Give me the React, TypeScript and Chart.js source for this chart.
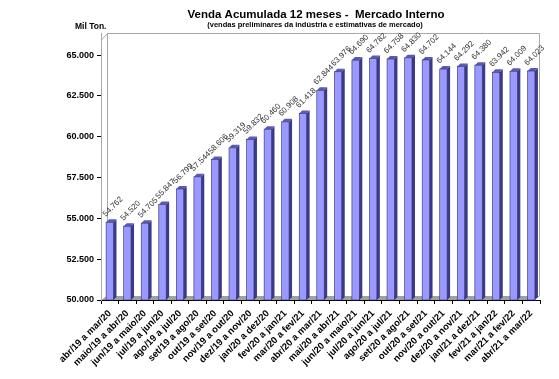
import React, { useEffect, useRef } from "react";
import { Chart, registerables } from "chart.js";

Chart.register(...registerables);

const categories = [
  "abr/19 a mar/20", "maio/19 a abr/20", "jun/19 a maio/20", "jul/19 a jun/20",
  "ago/19 a jul/20", "set/19 a ago/20", "out/19 a set/20", "nov/19 a out/20",
  "dez/19 a nov/20", "jan/20 a dez/20", "fev/20 a jan/21", "mar/20 a fev/21",
  "abr/20 a mar/21", "mai/20 a abr/21", "jun/20 a maio/21", "jul/20 a jun/21",
  "ago/20 a jul/21", "set/20 a ago/21", "out/20 a set/21", "nov/20 a out/21",
  "dez/20 a nov/21", "jan/21 a dez/21", "fev/21 a jan/22", "mar/21 a fev/22",
  "abr/21 a mar/22",
];

const vendas = [
  54762, 54520, 54705, 55847, 56799, 57544, 58606, 59319, 59832, 60460,
  60908, 61418, 62844, 63976, 64690, 64782, 64758, 64830, 64702, 64144,
  64292, 64380, 63942, 64009, 64023,
];

const yTicks = [50000, 52500, 55000, 57500, 60000, 62500, 65000];

const titleText = "Venda Acumulada 12 meses -  Mercado Interno";
const subtitleText = "(vendas preliminares da indústria e estimativas de mercado)";
const unitText = "Mil Ton.";

const fmt = (v: number) =>
  Math.round(v).toString().replace(/\B(?=(\d{3})+(?!\d))/g, ".");

const FONT = "'Liberation Sans', Arial, sans-serif";
const DEPTH = 3;

const deco = {
  id: "deco",
  beforeDatasetsDraw(chart: any) {
    const { ctx, chartArea } = chart;
    const { left, right, top, bottom } = chartArea;
    ctx.save();
    ctx.strokeStyle = "#A8A8A8";
    ctx.lineWidth = 1;
    ctx.beginPath();
    ctx.moveTo(left + 0.5, bottom);
    ctx.lineTo(left + 0.5, top + 7);
    ctx.lineTo(left + 6.5, top + 0.5);
    ctx.lineTo(right - 0.5, top + 0.5);
    ctx.lineTo(right - 0.5, bottom - 4);
    ctx.stroke();
    ctx.beginPath();
    ctx.moveTo(left + 6.5, top + 0.5);
    ctx.lineTo(left + 6.5, bottom - 4);
    ctx.stroke();
    ctx.fillStyle = "#A0A0A0";
    ctx.beginPath();
    ctx.moveTo(left, bottom);
    ctx.lineTo(left + 6, bottom - 4);
    ctx.lineTo(right, bottom - 4);
    ctx.lineTo(right - 6, bottom);
    ctx.closePath();
    ctx.fill();
    ctx.restore();
  },
  afterDatasetsDraw(chart: any) {
    const { ctx, chartArea } = chart;
    const meta = chart.getDatasetMeta(0);
    ctx.save();
    meta.data.forEach((bar: any, i: number) => {
      const { x, y, width } = bar.getProps(["x", "y", "width"], true);
      const base = chartArea.bottom;
      const l = x - width / 2;
      const r = x + width / 2;
      ctx.fillStyle = "#3A3A88";
      ctx.beginPath();
      ctx.moveTo(r, y);
      ctx.lineTo(r + DEPTH, y - DEPTH);
      ctx.lineTo(r + DEPTH, base - DEPTH);
      ctx.lineTo(r, base);
      ctx.closePath();
      ctx.fill();
      ctx.fillStyle = "#5A5AB0";
      ctx.beginPath();
      ctx.moveTo(l, y);
      ctx.lineTo(l + DEPTH, y - DEPTH);
      ctx.lineTo(r + DEPTH, y - DEPTH);
      ctx.lineTo(r, y);
      ctx.closePath();
      ctx.fill();
      ctx.strokeStyle = "#2E2E6E";
      ctx.lineWidth = 0.6;
      ctx.strokeRect(l, y, width, base - y);
      ctx.save();
      ctx.translate(l + 1, y - 4);
      ctx.rotate(-Math.PI / 4);
      ctx.fillStyle = "#333";
      ctx.font = `8px ${FONT}`;
      ctx.textAlign = "left";
      ctx.textBaseline = "bottom";
      ctx.fillText(fmt(vendas[i]), 0, 0);
      ctx.restore();
    });
    ctx.restore();
  },
  afterDraw(chart: any) {
    const { ctx } = chart;
    ctx.save();
    ctx.fillStyle = "#000";
    ctx.textAlign = "center";
    ctx.textBaseline = "alphabetic";
    ctx.font = `bold 11.5px ${FONT}`;
    ctx.fillText(titleText, 316, 18);
    ctx.font = `bold 7.5px ${FONT}`;
    ctx.fillText(subtitleText, 315, 27);
    ctx.textAlign = "left";
    ctx.font = `bold 8.5px ${FONT}`;
    ctx.fillText(unitText, 75, 29);
    ctx.restore();
  },
};

export default function App() {
  const ref = useRef<HTMLCanvasElement>(null);
  useEffect(() => {
    if (!ref.current) return;
    const chart = new Chart(ref.current, {
      type: "bar",
      data: {
        labels: categories,
        datasets: [
          {
            data: vendas,
            backgroundColor: "#9999FF",
            borderWidth: 0,
            barPercentage: 0.42,
            categoryPercentage: 1,
          },
        ],
      },
      options: {
        responsive: false,
        animation: false,
        layout: { padding: { top: 33, right: 19, left: 0, bottom: 0 } },
        plugins: { legend: { display: false }, tooltip: { enabled: false }, title: { display: false } },
        scales: {
          x: {
            offset: true,
            grid: { display: true, drawOnChartArea: false, drawTicks: true, tickLength: 4, offset: true, color: "#000" },
            border: { display: true, color: "#000" },
            ticks: {
              autoSkip: false,
              maxRotation: 45,
              minRotation: 45,
              padding: 4,
              color: "#000",
              font: { family: FONT, size: 9.5, weight: "bold" },
            },
            afterFit: (scale: any) => {
              scale.height = 79;
            },
          },
          y: {
            min: 50000,
            max: 66350,
            grid: { display: true, drawOnChartArea: false, drawTicks: true, tickLength: 4, color: "#000" },
            border: { display: true, color: "#A8A8A8" },
            afterBuildTicks: (scale: any) => {
              scale.ticks = yTicks.map((v) => ({ value: v }));
            },
            ticks: {
              padding: 3,
              color: "#000",
              font: { family: FONT, size: 9, weight: "bold" },
              callback: (v: any) => fmt(Number(v)),
            },
            afterFit: (scale: any) => {
              scale.width = 101;
            },
          },
        },
      },
      plugins: [deco],
    });
    return () => chart.destroy();
  }, []);
  return (
    <div style={{ position: "fixed", left: 0, top: 0, width: 559, height: 379, background: "#fff" }}>
      <canvas ref={ref} width={559} height={379} />
    </div>
  );
}
